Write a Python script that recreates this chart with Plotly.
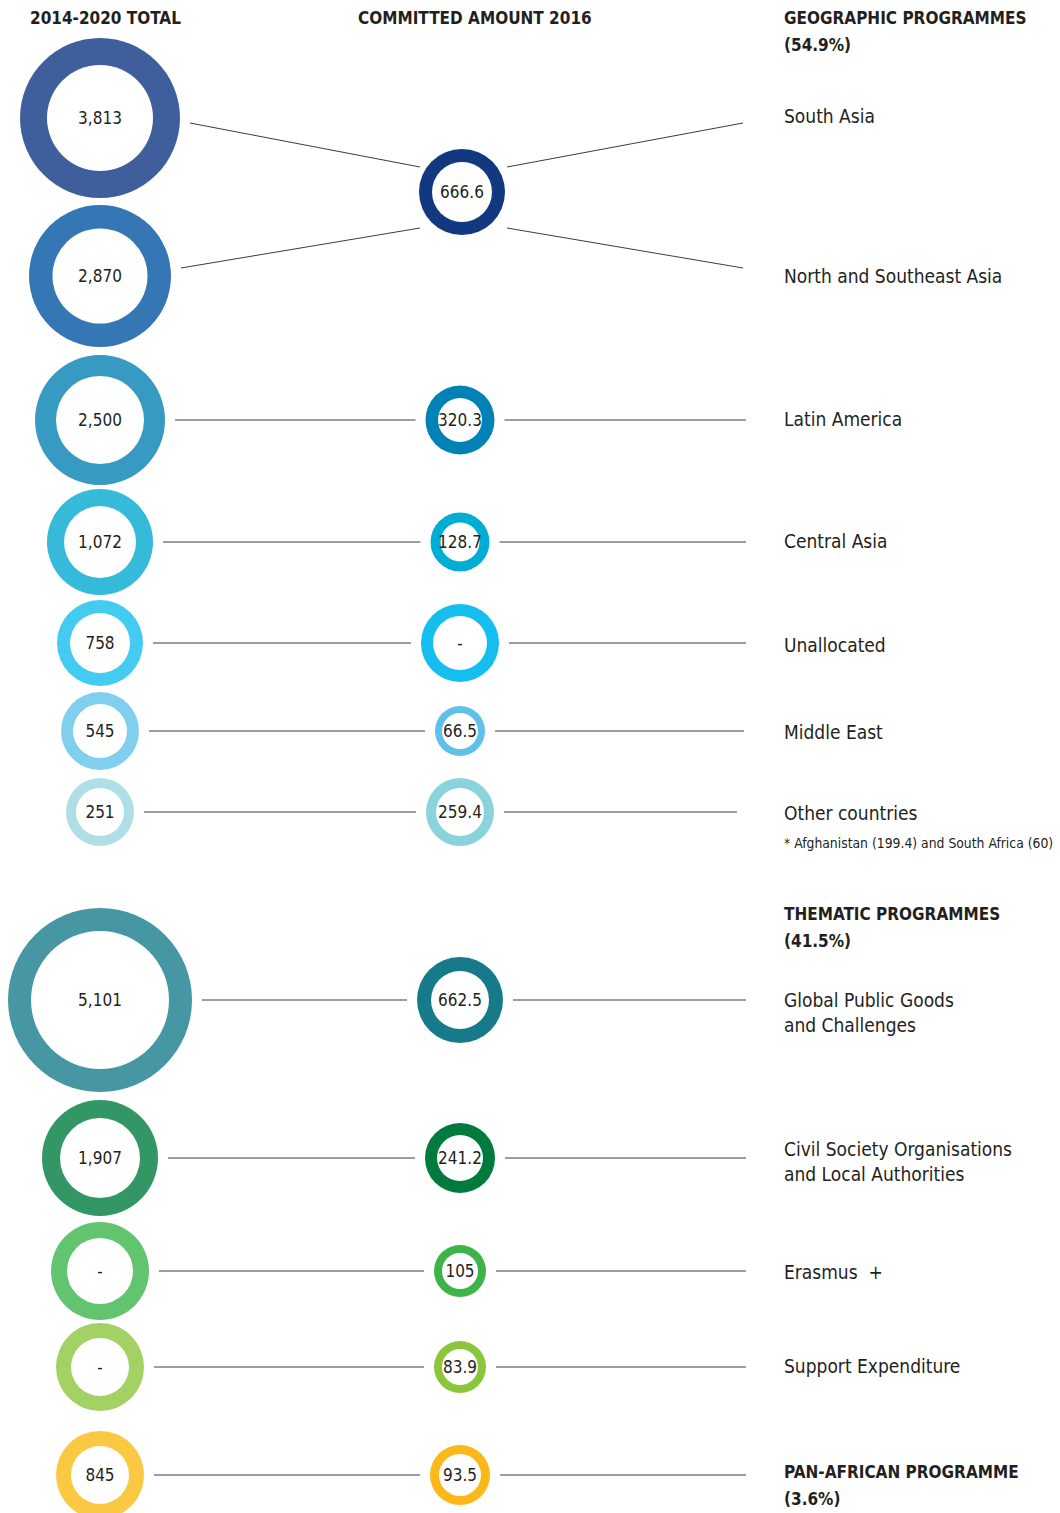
import plotly.graph_objects as go

# ---------------- data ----------------
labels = ["South Asia", "North and Southeast Asia", "Latin America", "Central Asia",
          "Unallocated", "Middle East", "Other countries",
          "Global Public Goods<br>and Challenges",
          "Civil Society Organisations<br>and Local Authorities",
          "Erasmus  +", "Support Expenditure"]
total_2014_2020 = ["3,813", "2,870", "2,500", "1,072", "758", "545", "251",
                   "5,101", "1,907", "-", "-", "845"]
committed_2016 = ["666.6", "320.3", "128.7", "-", "66.5", "259.4",
                  "662.5", "241.2", "105", "83.9", "93.5"]
# which rows each committed circle belongs to
committed_rows = [[0, 1], [2], [3], [4], [5], [6], [7], [8], [9], [10], [11]]
section_titles = ["GEOGRAPHIC PROGRAMMES", "THEMATIC PROGRAMMES", "PAN-AFRICAN PROGRAMME"]
section_shares = ["(54.9%)", "(41.5%)", "(3.6%)"]
col_titles = ["2014-2020 TOTAL", "COMMITTED AMOUNT 2016"]
footnote = "* Afghanistan (199.4) and South Africa (60)"

# ---------------- layout / style ----------------
W, H = 1060, 1513
FONT = "DejaVu Sans Condensed, Liberation Sans Narrow, Lato, sans-serif"
TXT = "#231f20"
row_y = [118, 276, 420, 542, 643, 731, 812, 1000, 1158, 1271, 1367, 1475]
label_y = [116, 276, 419, 541, 645, 732, 813, 1012, 1161, 1272, 1366]
section_y = [18, 914, 1472]
left_x, label_x = 100, 782
left_outer = [160, 142, 130, 106, 86, 78, 68, 184, 116, 98, 88, 88]
left_inner = [106, 95, 88, 72, 60, 54, 48, 138, 80, 66, 58, 58]
left_col = ["#3F5E9C", "#3577B5", "#369AC3", "#35BADA", "#44CBF2", "#81CFEE",
            "#AEDFE6", "#4696A4", "#339665", "#62C46F", "#A3D163", "#FBC843"]
mid_y = [192, 420, 542, 643, 731, 812, 1000, 1158, 1271, 1367, 1475]
mid_xs = [462, 460, 460, 460, 460, 460, 460, 460, 460, 460, 460]
mid_outer = [86, 69, 59, 78, 50, 68, 86, 70, 52, 52, 60]
mid_inner = [60, 44, 39, 54, 36, 48, 58, 46, 36, 36, 42]
mid_col = ["#12387F", "#0082B6", "#00AED3", "#14BFEF", "#5DC1EA", "#8AD3DD",
           "#177A8A", "#007A3D", "#3CB44A", "#8CC63F", "#FBB818"]
line_end = [743, 743, 746, 746, 746, 744, 737, 746, 746, 746, 746, 746]
GAP = 10
TEXT_DY = 2
LINE_COLOR = "#3c3c3c"

fig = go.Figure()

# connecting lines
for mi, rows in enumerate(committed_rows):
    cx, cy, mr = mid_xs[mi], mid_y[mi], mid_outer[mi] / 2
    if len(rows) == 1:
        r = rows[0]
        lx0 = left_x + left_outer[r] / 2 + GAP
        segs = [([lx0, cx - mr - GAP], [row_y[r], row_y[r]]),
                ([cx + mr + GAP, line_end[r]], [row_y[r], row_y[r]])]
    else:
        segs = []
        for k, r in enumerate(rows):
            dy = -25 if k == 0 else 36
            ly = row_y[r] + (5 if k == 0 else -8)
            lx0 = left_x + left_outer[r] / 2 + GAP
            segs.append(([lx0, cx - mr + 1], [ly, cy + dy]))
            segs.append(([cx + mr + 2, line_end[r]], [cy + dy, ly]))
    for xs, ys in segs:
        fig.add_trace(go.Scatter(x=xs, y=ys, mode="lines",
                                 line=dict(color=LINE_COLOR, width=1),
                                 hoverinfo="skip", showlegend=False))

# donuts: outer coloured disc + inner white disc
for xs, ys, outer, inner, cols in [
        ([left_x] * len(row_y), row_y, left_outer, left_inner, left_col),
        (mid_xs, mid_y, mid_outer, mid_inner, mid_col)]:
    fig.add_trace(go.Scatter(x=xs, y=ys, mode="markers",
                             marker=dict(size=outer, color=cols, opacity=1, line=dict(width=0)),
                             hoverinfo="skip", showlegend=False))
    fig.add_trace(go.Scatter(x=xs, y=ys, mode="markers",
                             marker=dict(size=inner, color="white", opacity=1, line=dict(width=0)),
                             hoverinfo="skip", showlegend=False))

# values inside the donuts
fig.add_trace(go.Scatter(x=[left_x] * len(row_y), y=[v + TEXT_DY for v in row_y],
                         mode="text", text=total_2014_2020, textposition="middle center",
                         textfont=dict(family=FONT, size=17, color=TXT),
                         hoverinfo="skip", showlegend=False))
fig.add_trace(go.Scatter(x=mid_xs, y=[v + TEXT_DY for v in mid_y],
                         mode="text", text=committed_2016, textposition="middle center",
                         textfont=dict(family=FONT, size=17, color=TXT),
                         hoverinfo="skip", showlegend=False))

HEAD = dict(family=FONT, size=17, color=TXT)
ann = []
ann.append(dict(x=105, y=18, text="<b>" + col_titles[0] + "</b>", xanchor="center", font=HEAD))
ann.append(dict(x=475, y=18, text="<b>" + col_titles[1] + "</b>", xanchor="center", font=HEAD))
for t, s, sy in zip(section_titles, section_shares, section_y):
    ann.append(dict(x=label_x, y=sy, text="<b>" + t + "</b>", xanchor="left", font=HEAD))
    ann.append(dict(x=label_x, y=sy + 27, text="<b>" + s + "</b>", xanchor="left", font=HEAD))
for lab, ly in zip(labels, label_y):
    ann.append(dict(x=label_x, y=ly, text=lab, xanchor="left",
                    font=dict(family=FONT, size=19, color=TXT)))
ann.append(dict(x=label_x, y=843, text=footnote, xanchor="left",
                font=dict(family=FONT, size=13.8, color=TXT)))
for a in ann:
    a.update(xref="x", yref="y", yanchor="middle", showarrow=False, align="left")

fig.update_layout(
    width=W, height=H, margin=dict(l=0, r=0, t=0, b=0),
    paper_bgcolor="white", plot_bgcolor="white",
    xaxis=dict(range=[0, W], visible=False, fixedrange=True),
    yaxis=dict(range=[H, 0], visible=False, fixedrange=True),
    annotations=ann, showlegend=False,
)
fig.write_html("out.html", config={"displayModeBar": False},
               post_script="document.body.style.margin='0';document.body.style.overflow='hidden';")
